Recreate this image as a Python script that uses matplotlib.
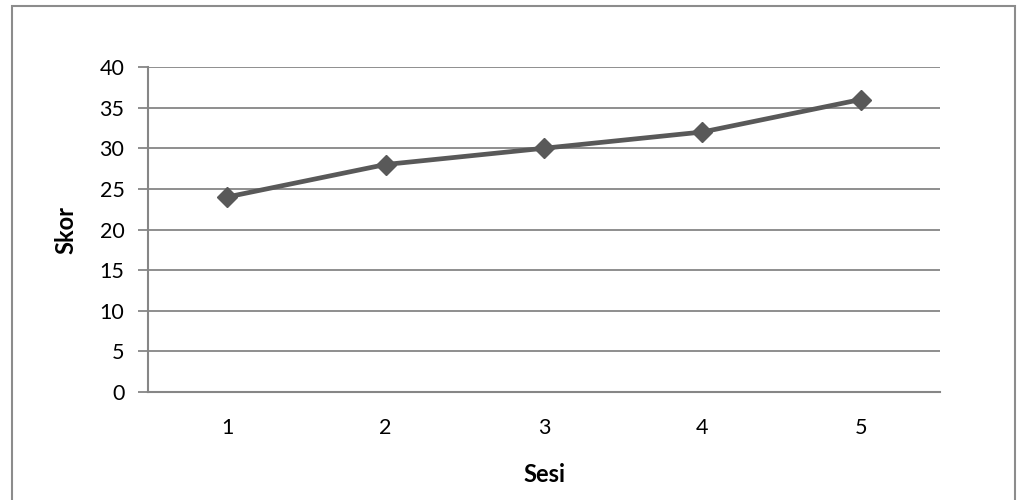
import matplotlib.pyplot as plt
from matplotlib.patches import Rectangle

# Skor per sesi
sesi = [1, 2, 3, 4, 5]
skor = [24, 28, 30, 32, 36]
y_ticks = [0, 5, 10, 15, 20, 25, 30, 35, 40]

plt.rcParams['font.family'] = ['Lato', 'DejaVu Sans']

W, H = 1017, 500
fig = plt.figure(figsize=(W / 100, H / 100), dpi=100)
ax = fig.add_axes([148 / W, 1 - 392 / H, (940 - 148) / W, (392 - 67) / H])

grid_c = '#868686'
ax.plot(sesi, skor, color='#595959', lw=3.4, marker='D', markersize=10.5,
        markerfacecolor='#595959', markeredgecolor='#595959', zorder=3)

ax.set_xlim(0.5, 5.5)
ax.set_ylim(0, 40)
ax.set_yticks(y_ticks)
ax.set_xticks(sesi)
ax.yaxis.grid(True, color=grid_c, lw=1.3)
ax.set_axisbelow(True)

for s in ['top', 'right']:
    ax.spines[s].set_visible(False)
for s in ['left', 'bottom']:
    ax.spines[s].set_color(grid_c)
    ax.spines[s].set_linewidth(1.5)

ax.tick_params(axis='y', length=7, width=1.3, color=grid_c, labelsize=15.5, pad=10)
ax.tick_params(axis='x', length=0, labelsize=15.5, pad=19)

ax.set_ylabel('Skor', fontsize=17, fontweight='bold', labelpad=16)
ax.set_xlabel('Sesi', fontsize=17, fontweight='bold', labelpad=18)

# bingkai luar grafik
fig.patches.append(Rectangle((12 / W, -0.05), (1015 - 12) / W, 1.05 - 6 / H,
                             transform=fig.transFigure, fill=False,
                             edgecolor='#8c8c8c', lw=1.5))

fig.savefig('out.png', dpi=100)
